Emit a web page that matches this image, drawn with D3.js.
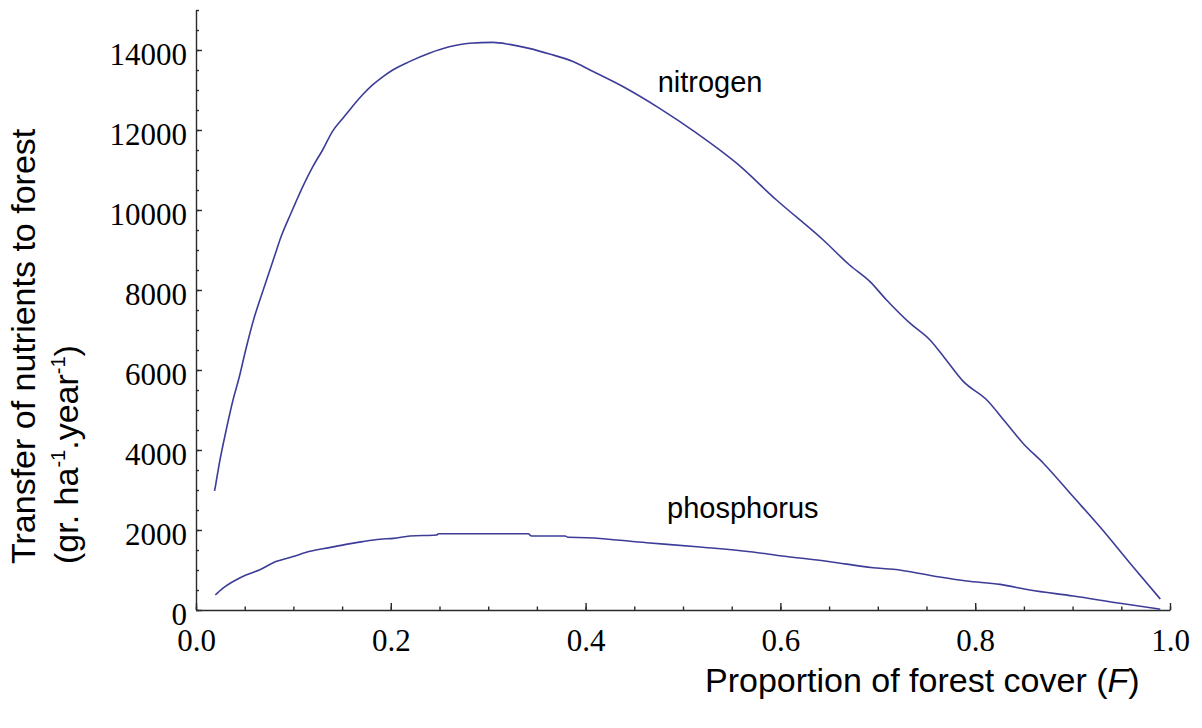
<!DOCTYPE html>
<html>
<head>
<meta charset="utf-8">
<title>Transfer of nutrients to forest</title>
<script src="https://cdn.jsdelivr.net/npm/d3@7"></script>
<style>
  body { margin: 0; background: #ffffff; }
  .tickLabel { font-family: "Liberation Serif", "Times New Roman", serif; font-size: 31px; fill: #000; }
  .title { font-family: "Liberation Sans", Arial, sans-serif; font-size: 34px; fill: #000; }
  .curveLabel { font-family: "Liberation Sans", Arial, sans-serif; font-size: 29px; fill: #000; }
  .axis path, .axis line { stroke: #2a2a2a; stroke-width: 1.4px; }
</style>
</head>
<body>
<script>
// proportion of forest cover (F) and transfer values
var nitrogenF = [0.019, 0.020, 0.021, 0.024, 0.031, 0.038, 0.0445, 0.051, 0.060, 0.069, 0.0804,
  0.0873, 0.0975, 0.1027, 0.1095, 0.1198, 0.130, 0.140, 0.1506, 0.159, 0.171, 0.181, 0.1917,
  0.202, 0.219, 0.2395, 0.260, 0.2806, 0.305, 0.322,
  0.342, 0.363, 0.387, 0.4045, 0.4387, 0.476, 0.514, 0.555, 0.596, 0.644, 0.671, 0.692, 0.709,
  0.733, 0.7536, 0.769, 0.788, 0.812, 0.8306, 0.849, 0.870, 0.9007, 0.928, 0.962, 0.990];
var nitrogenValues = [2980, 3100, 3250, 3670, 4500, 5250, 5830, 6500, 7330, 8000, 8830,
  9330, 9920, 10210, 10580, 11080, 11500, 11960, 12290, 12540, 12880, 13120, 13330,
  13500, 13710, 13920, 14080, 14170, 14190, 14140,
  14040, 13900, 13710, 13500, 13080, 12540, 11920, 11170, 10250, 9250, 8625, 8210, 7750,
  7170, 6750, 6290, 5710, 5250, 4710, 4170, 3670, 2830, 2080, 1080, 275];

var phosphorusF = [0.0198, 0.0274, 0.041, 0.0513, 0.065, 0.082, 0.099, 0.116, 0.137, 0.154,
  0.171, 0.189, 0.2026, 0.2197, 0.247, 0.249, 0.341, 0.3445, 0.379, 0.382, 0.401, 0.4627,
  0.5175, 0.569, 0.5996, 0.651, 0.695, 0.716, 0.757, 0.791, 0.8255, 0.856, 0.9007, 0.9487, 0.990];
var phosphorusValues = [375, 540, 750, 875, 1000, 1210, 1330, 1460, 1560, 1640,
  1710, 1770, 1790, 1850, 1875, 1908, 1908, 1850, 1850, 1817, 1808, 1683,
  1575, 1458, 1358, 1208, 1058, 1017, 850, 725, 640, 500, 350, 167, 20];

var xTicks = [0, 0.2, 0.4, 0.6, 0.8, 1.0];
var yTicks = [0, 2000, 4000, 6000, 8000, 10000, 12000, 14000];
var seriesNames = ["nitrogen", "phosphorus"];
var labelF = [0.474, 0.4836];
var labelValues = [12950, 2300];

var width = 1202, height = 728;
var x = d3.scaleLinear().domain([0, 1]).range([196, 1170]);
var y = d3.scaleLinear().domain([0, 15000]).range([610, 10]);

var svg = d3.select("body").append("svg")
  .attr("width", width)
  .attr("height", height);

// minor ticks first, then the main axes on top
svg.append("g")
  .attr("class", "axis")
  .attr("transform", "translate(0," + y(0) + ")")
  .call(d3.axisBottom(x).tickValues(d3.range(0, 1.001, 0.05)).tickSizeInner(-3.5).tickSizeOuter(0).tickFormat(""))
  .select(".domain").remove();

svg.append("g")
  .attr("class", "axis")
  .attr("transform", "translate(" + x(0) + ",0)")
  .call(d3.axisLeft(y).tickValues(d3.range(0, 15001, 500)).tickSizeInner(-3).tickSizeOuter(0).tickFormat(""))
  .select(".domain").remove();

var xAxis = svg.append("g")
  .attr("class", "axis")
  .attr("transform", "translate(0," + y(0) + ")")
  .call(d3.axisBottom(x).tickValues(xTicks).tickSizeInner(-7).tickSizeOuter(0).tickFormat(d3.format(".1f")));
xAxis.selectAll("text")
  .attr("class", "tickLabel")
  .attr("y", 41)
  .attr("dy", 0);
xAxis.attr("font-size", null).attr("font-family", null);

var yAxis = svg.append("g")
  .attr("class", "axis")
  .attr("transform", "translate(" + x(0) + ",0)")
  .call(d3.axisLeft(y).tickValues(yTicks).tickSizeInner(-6).tickSizeOuter(0).tickPadding(9).tickFormat(d3.format("d")));
yAxis.selectAll("text")
  .attr("class", "tickLabel")
  .attr("dy", 14);
yAxis.attr("font-size", null).attr("font-family", null);

// y domain reaches the minor tick at 15000
yAxis.select(".domain").attr("d", "M0.5," + y(0) + "V" + y(15000));

// curves
var line = d3.line()
  .curve(d3.curveMonotoneX)
  .x(function (d) { return x(d[0]); })
  .y(function (d) { return y(d[1]); });

var nitrogen = d3.zip(nitrogenF, nitrogenValues);
var phosphorus = d3.zip(phosphorusF, phosphorusValues);

svg.selectAll(".curve")
  .data([nitrogen, phosphorus])
  .enter().append("path")
  .attr("class", "curve")
  .attr("d", line)
  .attr("fill", "none")
  .attr("stroke", "#3d3d99")
  .attr("stroke-width", 1.6)
  .attr("stroke-linejoin", "round");

svg.selectAll(".curveLabel")
  .data(seriesNames)
  .enter().append("text")
  .attr("class", "curveLabel")
  .attr("x", function (d, i) { return x(labelF[i]); })
  .attr("y", function (d, i) { return y(labelValues[i]); })
  .text(function (d) { return d; });

// axis titles
var xTitle = svg.append("text")
  .attr("class", "title")
  .attr("x", 705)
  .attr("y", 692);
xTitle.append("tspan").text("Proportion of forest cover (");
xTitle.append("tspan").style("font-style", "italic").text("F");
xTitle.append("tspan").text(")");

var yTitle = svg.append("g")
  .attr("transform", "translate(35,564) rotate(-90)");
yTitle.append("text")
  .attr("class", "title")
  .text("Transfer of nutrients to forest");
var yTitle2 = yTitle.append("text")
  .attr("class", "title")
  .attr("y", 43);
yTitle2.append("tspan").text("(gr. ha");
yTitle2.append("tspan").attr("dy", -13).style("font-size", "20px").text("-1");
yTitle2.append("tspan").attr("dy", 13).text(".year");
yTitle2.append("tspan").attr("dy", -13).style("font-size", "20px").text("-1");
yTitle2.append("tspan").attr("dy", 13).text(")");
</script>
</body>
</html>
